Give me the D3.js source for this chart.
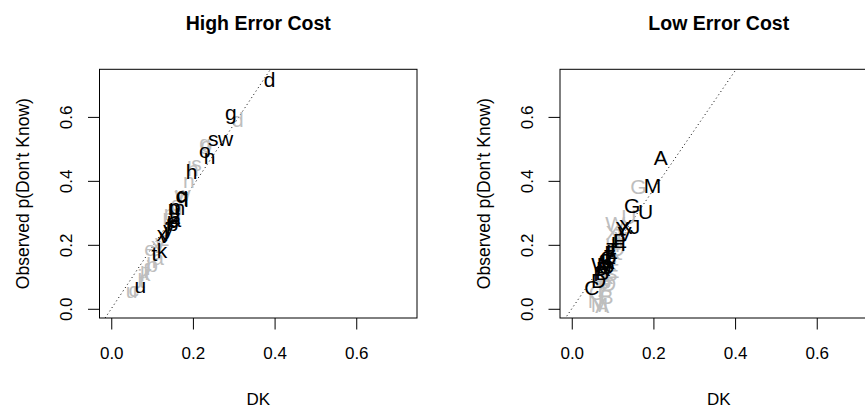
<!DOCTYPE html>
<html><head><meta charset="utf-8">
<script src="https://cdn.jsdelivr.net/npm/d3@7"></script>
<style>body{margin:0;background:#fff} svg{display:block}</style>
</head><body><div id="chart"></div>
<script>
// ---- data ----
const panelTitles = ["High Error Cost", "Low Error Cost"];
const xLabel = "DK";
const yLabel = "Observed p(Don't Know)";
const axisLimits = [0, 0.72];
const tickValues = [0.0, 0.2, 0.4, 0.6];
const tickLabels = ["0.0", "0.2", "0.4", "0.6"];

const highLetters = "abcdefghijklmnopqrstuvwxyz".split("");
const highBlackX = [0.157,0.150,0.170,0.388,0.152,0.140,0.293,0.197,0.163,0.135,0.124,0.184,0.160,0.241,0.229,0.156,0.174,0.145,0.250,0.106,0.071,0.130,0.280,0.124,0.140,0.158];
const highBlackY = [0.280,0.268,0.355,0.716,0.275,0.260,0.614,0.430,0.305,0.245,0.184,0.341,0.318,0.475,0.496,0.320,0.357,0.270,0.533,0.173,0.073,0.230,0.533,0.236,0.250,0.290];
const highGrayX  = [0.115,0.100,0.055,0.310,0.095,0.085,0.230,0.200,0.090,0.070,0.083,0.105,0.150,0.190,0.233,0.140,0.160,0.090,0.209,0.075,0.050,0.168,0.175,0.110,0.120,0.130];
const highGrayY  = [0.160,0.140,0.060,0.593,0.189,0.120,0.520,0.440,0.130,0.100,0.110,0.150,0.300,0.400,0.514,0.290,0.330,0.115,0.456,0.090,0.058,0.357,0.360,0.200,0.210,0.220];

const lowLetters = "ABCDEFGHIJKLMNOPQRSTUVWXYZ".split("");
const lowBlackX = [0.218,0.075,0.049,0.066,0.118,0.095,0.148,0.114,0.108,0.155,0.088,0.098,0.198,0.080,0.085,0.070,0.090,0.078,0.082,0.100,0.181,0.130,0.072,0.132,0.124,0.092];
const lowBlackY = [0.472,0.115,0.068,0.090,0.215,0.175,0.322,0.205,0.215,0.257,0.148,0.180,0.385,0.140,0.132,0.110,0.160,0.125,0.150,0.185,0.304,0.235,0.140,0.257,0.250,0.165];
const lowGrayX  = [0.075,0.085,0.060,0.090,0.100,0.095,0.163,0.100,0.105,0.110,0.085,0.100,0.068,0.058,0.090,0.080,0.110,0.075,0.095,0.105,0.140,0.090,0.106,0.100,0.120,0.080];
const lowGrayY  = [0.010,0.040,0.050,0.080,0.120,0.150,0.383,0.200,0.210,0.230,0.100,0.180,0.015,0.025,0.160,0.070,0.190,0.090,0.110,0.170,0.290,0.140,0.268,0.240,0.220,0.060];

const refSlopes = [1.92, 1.86];

// ---- drawing ----
const W = 865, H = 411;
const svg = d3.select("#chart").append("svg").attr("width", W).attr("height", H)
  .style("font-family", "'Liberation Sans', Arial, Helvetica, sans-serif");
svg.append("rect").attr("width", W).attr("height", H).attr("fill", "#fff");

const boxW = 317.5, boxTop = 69.3, boxBottom = 318;
const boxLefts = [99.5, 560];
const ext = (axisLimits[1] - axisLimits[0]) * 0.04;
const dom = [axisLimits[0] - ext, axisLimits[1] + ext];

const panels = [
  {letters: highLetters, bx: highBlackX, by: highBlackY, gx: highGrayX, gy: highGrayY},
  {letters: lowLetters, bx: lowBlackX, by: lowBlackY, gx: lowGrayX, gy: lowGrayY}
];

panels.forEach((p, i) => {
  const left = boxLefts[i];
  const x = d3.scaleLinear().domain(dom).range([left, left + boxW]);
  const y = d3.scaleLinear().domain(dom).range([boxBottom, boxTop]);
  const g = svg.append("g");
  const clipId = "clip" + i;
  svg.append("clipPath").attr("id", clipId).append("rect")
    .attr("x", left).attr("y", boxTop).attr("width", boxW).attr("height", boxBottom - boxTop);
  const plot = g.append("g").attr("clip-path", `url(#${clipId})`);

  // reference dotted line
  const lx = [dom[0] - 0.1, dom[1] + 0.1];
  plot.append("line")
    .attr("x1", x(lx[0])).attr("y1", y(refSlopes[i] * lx[0]))
    .attr("x2", x(lx[1])).attr("y2", y(refSlopes[i] * lx[1]))
    .attr("stroke", "#000").attr("stroke-width", 1).attr("stroke-dasharray", "1,3");

  // gray letters
  plot.selectAll("text.gray").data(p.letters).join("text").attr("class", "gray")
    .attr("x", (d, k) => x(p.gx[k])).attr("y", (d, k) => y(p.gy[k]))
    .attr("dy", "0.36em").attr("text-anchor", "middle")
    .attr("font-size", 21).attr("fill", "#bebebe").text(d => d);
  // black letters
  plot.selectAll("text.black").data(p.letters).join("text").attr("class", "black")
    .attr("x", (d, k) => x(p.bx[k])).attr("y", (d, k) => y(p.by[k]))
    .attr("dy", "0.36em").attr("text-anchor", "middle")
    .attr("font-size", 21).attr("fill", "#000").text(d => d);

  // box
  g.append("rect").attr("x", left).attr("y", boxTop).attr("width", boxW).attr("height", boxBottom - boxTop)
    .attr("fill", "none").attr("stroke", "#000").attr("stroke-width", 1);

  // x axis
  const xa = g.append("g").attr("transform", `translate(0,${boxBottom})`)
    .call(d3.axisBottom(x).tickValues(tickValues).tickSize(11.5).tickFormat((d, k) => tickLabels[k]));
  xa.select(".domain").remove();
  xa.selectAll("line").attr("stroke", "#000");
  xa.selectAll("text").attr("y", 41).attr("dy", 0).attr("font-size", 17)
    .attr("font-family", "'Liberation Sans', Arial, sans-serif").attr("fill", "#000");

  // y axis
  const ya = g.append("g").attr("transform", `translate(${left},0)`)
    .call(d3.axisLeft(y).tickValues(tickValues).tickSize(11.5).tickFormat((d, k) => tickLabels[k]));
  ya.select(".domain").remove();
  ya.selectAll("line").attr("stroke", "#000");
  ya.selectAll("text").attr("x", 0).attr("y", 0).attr("dy", 0)
    .attr("transform", "translate(-27.5,0) rotate(-90)").attr("text-anchor", "middle")
    .attr("font-size", 17).attr("font-family", "'Liberation Sans', Arial, sans-serif").attr("fill", "#000");

  // title
  const cx = left + boxW / 2;
  g.append("text").attr("x", cx).attr("y", 30).attr("text-anchor", "middle")
    .attr("font-size", 19.5).attr("font-weight", "bold").text(panelTitles[i]);
  // x label
  g.append("text").attr("x", cx).attr("y", 405).attr("text-anchor", "middle")
    .attr("font-size", 17).text(xLabel);
  // y label
  const ycen = (boxTop + boxBottom) / 2;
  g.append("text").attr("transform", `translate(${left - 70.2},${ycen}) rotate(-90)`)
    .attr("text-anchor", "middle").attr("font-size", 17.5).text(yLabel);
});
</script></body></html>
